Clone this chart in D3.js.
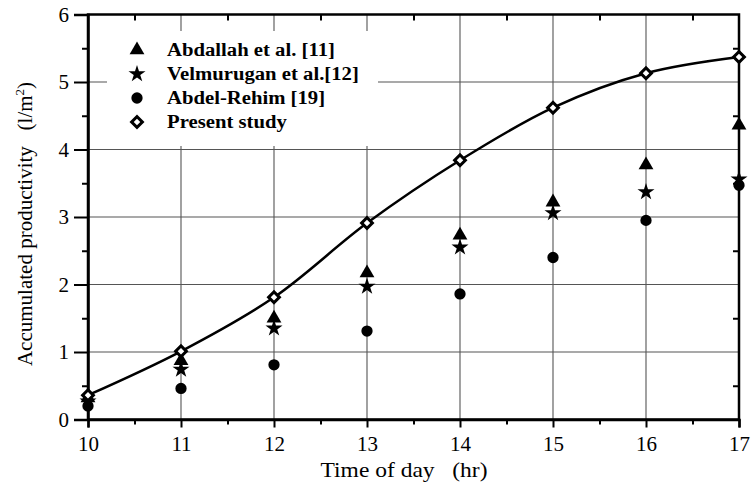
<!DOCTYPE html>
<html>
<head>
<meta charset="utf-8">
<script src="https://cdn.jsdelivr.net/npm/d3@7/dist/d3.min.js"></script>
<style>
  html, body { margin: 0; padding: 0; background: #fff; }
  svg { display: block; }
  text { font-family: "Liberation Serif", "Times New Roman", serif; fill: #000; white-space: pre; }
</style>
</head>
<body>
<svg id="chart" width="751" height="482"></svg>
<script>
// Accumulated productivity (l/m²) versus time of day (hr)
const hours = [10, 11, 12, 13, 14, 15, 16, 17];
const abdallah   = [0.32, 0.87, 1.50, 2.17, 2.73, 3.22, 3.77, 4.36];
const velmurugan = [0.27, 0.74, 1.35, 1.97, 2.55, 3.06, 3.37, 3.56];
const abdelRehim = [0.20, 0.46, 0.81, 1.31, 1.86, 2.40, 2.95, 3.47];
const present    = [0.36, 1.01, 1.81, 2.91, 3.84, 4.62, 5.13, 5.37];
const xTicks = [10, 11, 12, 13, 14, 15, 16, 17];
const yTicks = [0, 1, 2, 3, 4, 5, 6];
const legendLabels = ["Abdallah et al. [11]", "Velmurugan et al.[12]", "Abdel-Rehim [19]", "Present study"];

const svg = d3.select("#chart");
const plotL = 88, plotR = 739, plotT = 14.5, plotB = 419.5;

const x = d3.scaleLinear().domain([10, 17]).range([plotL, plotR]);
const y = d3.scaleLinear().domain([0, 6]).range([plotB, plotT]);

const halfX = d3.range(10.5, 17, 1);
const halfY = d3.range(0.5, 6, 1);

// grid
const grid = svg.append("g").attr("stroke", "#555").attr("stroke-width", 1.1);
grid.selectAll("line.gx").data(xTicks.slice(1, -1)).join("line")
  .attr("x1", d => x(d)).attr("x2", d => x(d)).attr("y1", plotT).attr("y2", plotB);
grid.selectAll("line.gy").data(yTicks.slice(1, -1)).join("line")
  .attr("x1", plotL).attr("x2", plotR).attr("y1", d => y(d)).attr("y2", d => y(d));

// bottom axis
svg.append("g").attr("transform", `translate(0,${plotB})`)
  .call(d3.axisBottom(x).tickValues(xTicks).tickFormat(d3.format("d")).tickSize(8).tickPadding(9));
svg.append("g").attr("transform", `translate(0,${plotB})`)
  .call(d3.axisBottom(x).tickValues(halfX).tickFormat("").tickSize(5))
  .call(g => g.select(".domain").remove());

// left axis
svg.append("g").attr("transform", `translate(${plotL},0)`)
  .call(d3.axisLeft(y).tickValues(yTicks).tickFormat(d3.format("d")).tickSize(14).tickPadding(5));
svg.append("g").attr("transform", `translate(${plotL},0)`)
  .call(d3.axisLeft(y).tickValues(halfY).tickFormat("").tickSize(6))
  .call(g => g.select(".domain").remove());

// top axis (inward ticks)
svg.append("g").attr("transform", `translate(0,${plotT})`)
  .call(d3.axisTop(x).tickValues(halfX).tickFormat("").tickSize(-6))
  .call(g => g.select(".domain").remove());
// right axis (inward ticks)
svg.append("g").attr("transform", `translate(${plotR},0)`)
  .call(d3.axisRight(y).tickValues(halfY).tickFormat("").tickSize(-6))
  .call(g => g.select(".domain").remove());

svg.selectAll(".domain").attr("stroke", "#000").attr("stroke-width", 2.5);
svg.selectAll(".tick line").attr("stroke", "#000").attr("stroke-width", 2);
svg.selectAll(".tick text").attr("font-size", 21)
  .attr("font-family", "'Liberation Serif', serif");

// frame
svg.append("rect").attr("x", plotL).attr("y", plotT)
  .attr("width", plotR - plotL).attr("height", plotB - plotT)
  .attr("fill", "none").attr("stroke", "#000").attr("stroke-width", 2.5);

// legend background
svg.append("rect").attr("x", 107).attr("y", 31).attr("width", 271).attr("height", 115).attr("fill", "#fff");

// symbols
const symTri = d3.symbol().type(d3.symbolTriangle).size(95);
const symStar = d3.symbol().type(d3.symbolStar).size(90);
const symCircle = d3.symbol().type(d3.symbolCircle).size(100);
const symDiamond = d3.symbol().type(d3.symbolSquare).size(58);

function drawSeries(vals, sym, opts) {
  svg.append("g").selectAll("path").data(vals.map((v, i) => [hours[i], v])).join("path")
    .attr("transform", d => `translate(${x(d[0])},${y(d[1])})${opts.rot ? " rotate(45)" : ""}`)
    .attr("d", sym)
    .attr("fill", opts.fill)
    .attr("stroke", opts.stroke || "none")
    .attr("stroke-width", opts.sw || 0);
}

drawSeries(abdelRehim, symCircle, { fill: "#000" });
drawSeries(velmurugan, symStar, { fill: "#000" });
drawSeries(abdallah, symTri, { fill: "#000" });

// present study curve
const line = d3.line().x(d => x(d[0])).y(d => y(d[1])).curve(d3.curveCatmullRom.alpha(0.5));
svg.append("path").datum(present.map((v, i) => [hours[i], v]))
  .attr("d", line).attr("fill", "none").attr("stroke", "#000").attr("stroke-width", 2.5);
drawSeries(present, symDiamond, { fill: "#fff", stroke: "#000", sw: 3, rot: true });

// legend
const legendSyms = [
  { s: symTri, fill: "#000" },
  { s: symStar, fill: "#000" },
  { s: symCircle, fill: "#000" },
  { s: symDiamond, fill: "#fff", stroke: "#000", sw: 3, rot: true }
];
legendLabels.forEach((lab, i) => {
  const cy = 50 + i * 24;
  const m = legendSyms[i];
  svg.append("path")
    .attr("transform", `translate(137,${cy})${m.rot ? " rotate(45)" : ""}`)
    .attr("d", m.s).attr("fill", m.fill)
    .attr("stroke", m.stroke || "none").attr("stroke-width", m.sw || 0);
  svg.append("text").attr("transform", `translate(167,${cy + 6}) scale(1.09,1)`)
    .attr("font-size", 19).attr("font-weight", "bold").text(lab);
});

// axis titles
svg.append("text").attr("transform", "translate(404,477) scale(1.12,1)").attr("text-anchor", "middle")
  .attr("font-size", 21).text("Time of day   (hr)");

const yt = svg.append("text").attr("transform", "translate(32,224) rotate(-90)")
  .attr("text-anchor", "middle").attr("font-size", 21);
yt.append("tspan").text("Accumulated productivity   (l/m");
yt.append("tspan").attr("font-size", 13).attr("dy", -8).text("2");
yt.append("tspan").attr("dy", 8).text(")");
</script>
</body>
</html>
